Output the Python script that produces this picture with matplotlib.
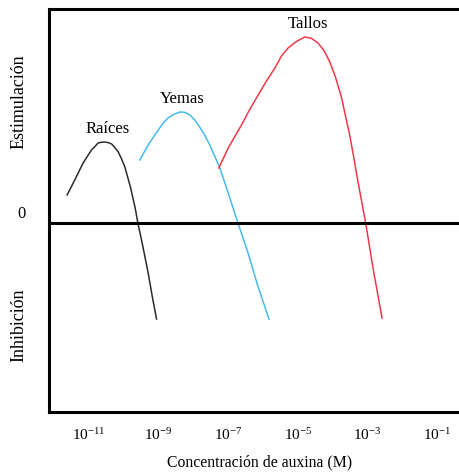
import numpy as np
import matplotlib
matplotlib.use("Agg")
import matplotlib.pyplot as plt

plt.rcParams['font.family'] = ['Liberation Serif', 'DejaVu Serif']
plt.rcParams['mathtext.fontset'] = 'custom'
plt.rcParams['mathtext.rm'] = 'Liberation Serif'
plt.rcParams['mathtext.it'] = 'Liberation Serif:italic'
plt.rcParams['mathtext.bf'] = 'Liberation Serif:bold'

# log10 of auxin concentration (M) and response (stimulation > 0, inhibition < 0)
raices_logc = [-11.63, -11.41, -11.17, -10.93, -10.83, -10.74, -10.65, -10.55,
               -10.45, -10.35, -10.26, -10.16, -10.07, -9.97, -9.81, -9.68,
               -9.59, -9.45, -9.30, -9.18, -9.06]
raices_resp = [0.28, 0.43, 0.60, 0.73, 0.765, 0.80, 0.807, 0.81,
               0.804, 0.79, 0.755, 0.71, 0.645, 0.56, 0.36, 0.16,
               -0.01, -0.24, -0.50, -0.74, -0.96]

yemas_logc = [-9.54, -9.30, -9.01, -8.88, -8.73, -8.56, -8.39, -8.25, -8.10,
              -7.96, -7.82, -7.67, -7.53, -7.24, -7.00, -6.72, -6.43, -6.14, -5.83]
yemas_resp = [0.63, 0.78, 0.93, 0.995, 1.05, 1.087, 1.11, 1.107, 1.08,
              1.03, 0.96, 0.875, 0.78, 0.55, 0.30, 0.00, -0.30, -0.64, -0.96]

tallos_logc = [-7.27, -7.00, -6.62, -6.39, -6.14, -5.91, -5.66, -5.47, -5.28,
               -5.04, -4.80, -4.61, -4.42, -4.24, -4.08, -3.92, -3.74, -3.63,
               -3.51, -3.39, -3.27, -3.05, -2.84, -2.58]
tallos_resp = [0.55, 0.75, 0.98, 1.13, 1.28, 1.415, 1.55, 1.67, 1.75,
               1.815, 1.86, 1.847, 1.80, 1.72, 1.61, 1.46, 1.25, 1.07,
               0.88, 0.65, 0.41, 0.00, -0.45, -0.95]

tick_exps = [-11, -9, -7, -5, -3, -1]

series = [
    ("Raíces", raices_logc, raices_resp, "#2b2b2b"),
    ("Yemas", yemas_logc, yemas_resp, "#45bbea"),
    ("Tallos", tallos_logc, tallos_resp, "#ee3848"),
]

fig = plt.figure(figsize=(4.6, 4.72), dpi=100)
ax = fig.add_axes([49 / 460, 60 / 472, 1 - 49 / 460, 403 / 472])

for name, logc, resp, color in series:
    conc = 10.0 ** np.array(logc)
    resp = np.array(resp)
    ax.plot(conc, resp, color=color, lw=1.1, solid_joinstyle='round')
    i = int(np.argmax(resp))
    ax.annotate(name, (conc[i], resp[i]), xytext=(2, 9.5), textcoords='offset points',
                ha='center', va='center', fontsize=12)

ax.axhline(0, color='black', lw=2.2)

ax.set_xscale('log')
ax.set_xlim(10 ** -12.15, 10 ** -0.34)
ax.set_ylim(-1.89, 2.14)

ax.set_xticks([10.0 ** e for e in tick_exps])
ax.set_xticklabels([r'$\mathregular{10^{%d}}$' % e for e in tick_exps], fontsize=11)
ax.xaxis.set_minor_locator(matplotlib.ticker.NullLocator())
ax.tick_params(axis='x', length=0, pad=11)

ax.set_yticks([])
ax.text(-0.066, 0.09, '0', transform=ax.get_yaxis_transform(),
        ha='center', va='center', fontsize=12)

ax.set_xlabel('Concentración de auxina (M)', fontsize=11.3)
ax.xaxis.set_label_coords(0.513, -0.105)
ax.text(-0.074, 1.21, 'Estimulación', transform=ax.get_yaxis_transform(),
        rotation=90, ha='center', va='center', fontsize=13)
ax.text(-0.074, -1.02, 'Inhibición', transform=ax.get_yaxis_transform(),
        rotation=90, ha='center', va='center', fontsize=13)

for side in ['left', 'top', 'bottom']:
    ax.spines[side].set_linewidth(2.2)
ax.spines['right'].set_visible(False)

fig.savefig('out.png', dpi=100)
